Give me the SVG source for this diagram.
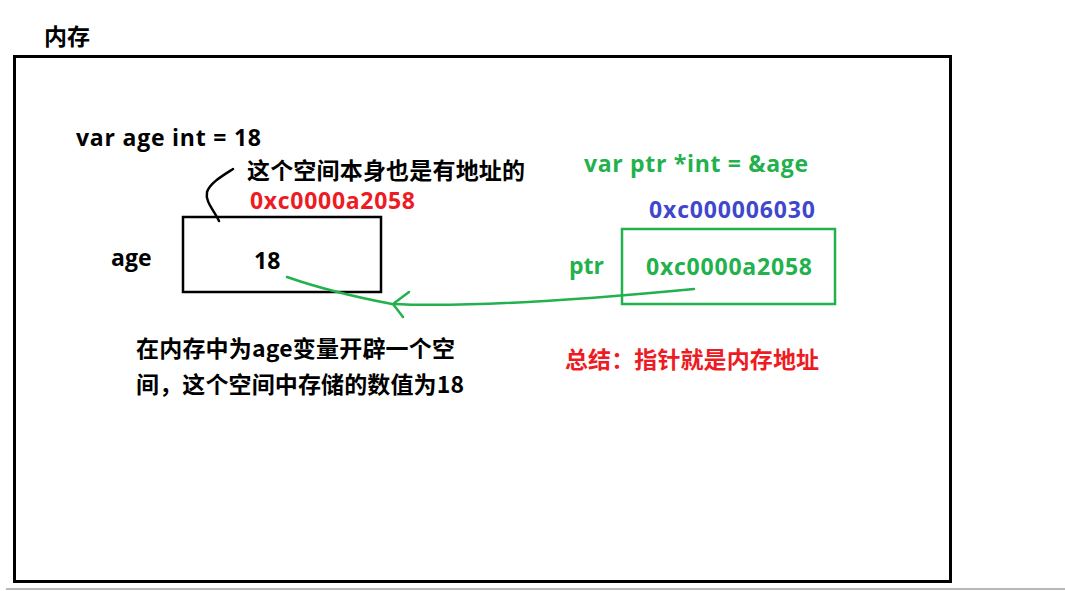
<svg xmlns="http://www.w3.org/2000/svg" width="1065" height="591" viewBox="0 0 1065 591">
  <style>
    .t { font-family: "Open Sans", "Noto Sans CJK SC", sans-serif; font-weight: bold; font-size: 23px; }
    .cjk { font-family: "Noto Sans CJK SC", sans-serif; font-weight: bold; font-size: 23px; }
    .blk { fill: #000000; }
    .grn { fill: #22b14c; }
    .red { fill: #ed1c24; }
    .blu { fill: #3f48cc; }
    .box { fill: none; stroke-width: 2.5; }
  </style>
  <rect width="1065" height="591" fill="#ffffff"/>
  <line x1="6" y1="589" x2="1065" y2="589" stroke="#a0a0a0" stroke-width="1.5"/>

  <!-- memory region -->
  <g id="memory">
    <text class="cjk blk" x="44" y="45" font-size="21">内存</text>
    <rect x="14.5" y="56.5" width="936" height="525" fill="none" stroke="#000" stroke-width="3"/>
  </g>

  <!-- variable age -->
  <g id="age-decl">
    <text class="t blk" x="76" y="146" textLength="185" lengthAdjust="spacing">var age int = 18</text>
  </g>
  <g id="age-box">
    <rect class="box" x="183" y="217" width="198" height="75" stroke="#000"/>
    <text class="t blk" x="254" y="269">18</text>
  </g>
  <g id="age-label">
    <text class="t blk" x="111" y="266">age</text>
  </g>
  <g id="age-address">
    <text class="cjk blk" x="247" y="179" textLength="278" lengthAdjust="spacing">这个空间本身也是有地址的</text>
    <text class="t red" x="250" y="209" textLength="165" lengthAdjust="spacing">0xc0000a2058</text>
  </g>
  <g id="age-note">
    <text class="cjk blk" x="136" y="357" textLength="319" lengthAdjust="spacing">在内存中为age变量开辟一个空</text>
    <text class="cjk blk" x="136" y="393" textLength="328" lengthAdjust="spacing">间，这个空间中存储的数值为18</text>
  </g>

  <!-- pointer ptr -->
  <g id="ptr-decl">
    <text class="t grn" x="584" y="172" textLength="224" lengthAdjust="spacing">var ptr *int = &amp;age</text>
  </g>
  <g id="ptr-address">
    <text class="t blu" x="649" y="218" textLength="166" lengthAdjust="spacing">0xc000006030</text>
  </g>
  <g id="ptr-box">
    <rect class="box" x="622" y="229" width="213" height="75" stroke="#22b14c"/>
    <text class="t grn" x="646" y="275" textLength="166" lengthAdjust="spacing">0xc0000a2058</text>
  </g>
  <g id="ptr-label">
    <text class="t grn" x="569" y="274">ptr</text>
  </g>
  <g id="summary">
    <text class="cjk red" x="565" y="368" textLength="254" lengthAdjust="spacing">总结：指针就是内存地址</text>
  </g>

  <!-- connectors -->
  <g id="connectors" fill="none" stroke-linecap="round" stroke-linejoin="round">
    <path d="M233 169 C222 176 210 183 207 192 C205 202 214 210 219 221" stroke="#000" stroke-width="2.5"/>
    <path d="M694 289 C600 298 480 308 392 304 C350 296 310 285 287 277" stroke="#22b14c" stroke-width="2.5"/>
    <path d="M409 292 L393 304 L403 317" stroke="#22b14c" stroke-width="2.5"/>
  </g>
</svg>
